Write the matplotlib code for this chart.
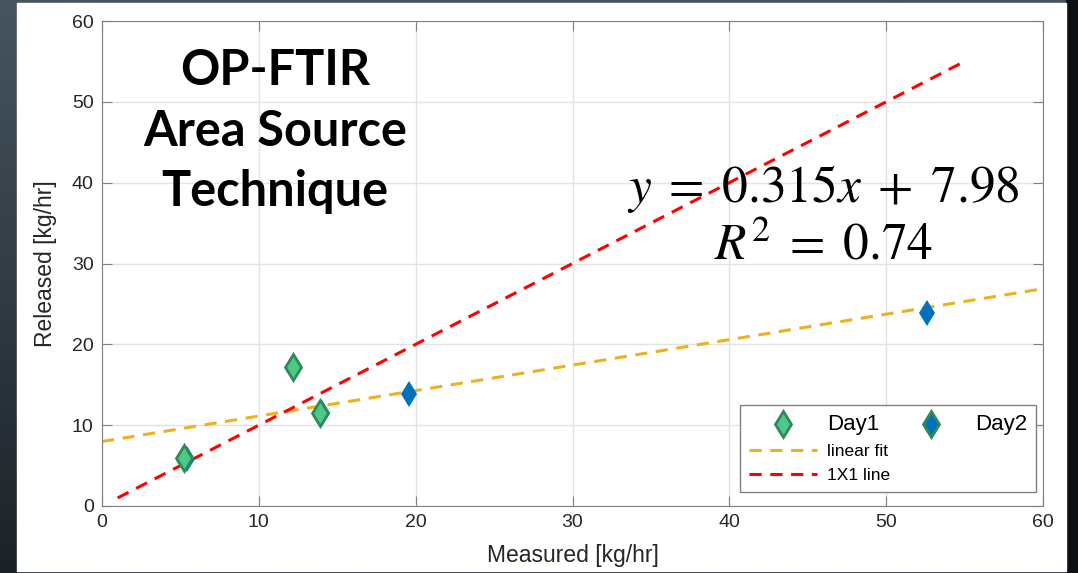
import numpy as np
import matplotlib
matplotlib.use("Agg")
import matplotlib.pyplot as plt
from matplotlib.lines import Line2D

# dados
day1_x = [5.2, 12.2, 13.9]
day1_y = [6.0, 17.2, 11.5]
day2_x = [5.4, 14.0, 19.6, 52.6]
day2_y = [5.8, 11.5, 13.9, 23.9]
slope, intercept = 0.315, 7.98
fit_x = [0, 60]
one_x = [1, 55]
ticks = [0, 10, 20, 30, 40, 50, 60]

plt.rcParams['mathtext.fontset'] = 'stix'
plt.rcParams['font.family'] = ['Liberation Sans', 'DejaVu Sans']

fig = plt.figure(figsize=(10.78, 5.73), dpi=100)

# fundo escuro do slide
bg = fig.add_axes([0, 0, 1, 1])
grad = np.linspace(0, 1, 256).reshape(-1, 1)
cmap = matplotlib.colors.LinearSegmentedColormap.from_list("bg", ["#47555f", "#1c2228"])
bg.imshow(grad, aspect="auto", cmap=cmap, extent=[0, 1, 0, 1])
bg.add_patch(plt.Rectangle((1066/1078, 0), 1, 1, color="#0e0f12"))
bg.add_patch(plt.Rectangle((17/1078, 2/573), 1049/1078, 568/573, color="white"))
bg.set_xlim(0, 1)
bg.set_ylim(0, 1)
bg.axis("off")

ax = fig.add_axes([102/1078, 1 - 506/573, 941/1078, 485/573])
ax.set_facecolor("white")

ax.plot(fit_x, [slope*v + intercept for v in fit_x], "--", color="#EDB120", lw=2.2, dashes=(4, 2.8))
ax.plot(one_x, one_x, "--", color="#ff0000", lw=2.2, dashes=(4, 2.8))
ax.plot(day2_x, day2_y, "d", color="#0072BD", ms=13, mec="#0072BD", mew=0, zorder=3)
ax.plot(day1_x, day1_y, "d", color="#4dc98a", ms=13, mec="#2e8b57", mew=2, zorder=4)

ax.set_xlim(0, 60)
ax.set_ylim(0, 60)
ax.set_xticks(ticks)
ax.set_yticks(ticks)
ax.grid(True, color="#e3e3e3", lw=1)
ax.set_axisbelow(True)
for s in ax.spines.values():
    s.set_color("#808080")
ax.tick_params(colors="#808080", labelcolor="#262626", labelsize=14, length=7,
               direction="in", top=True, right=True, pad=6)
ax.set_xlabel("Measured [kg/hr]", fontsize=16.5, color="#262626", labelpad=9)
ax.set_ylabel("Released [kg/hr]", fontsize=16.5, color="#262626", labelpad=11)

ax.text(0.184, 0.773, "OP-FTIR\nArea Source\nTechnique", transform=ax.transAxes,
        ha="center", va="center", fontsize=35, fontweight="bold", family="Lato",
        linespacing=1.42)
ax.text(46.0, 39.2, r"$y\;=\;0.315x\;+\;7.98$", ha="center", va="center", fontsize=37)
ax.text(46.0, 32.2, r"$R^2\;=\;0.74$", ha="center", va="center", fontsize=37)

h1 = Line2D([], [], ls="none", marker="d", color="#4dc98a", mec="#2e8b57", mew=2, ms=13)
h2 = Line2D([], [], ls="none", marker="d", color="#0072BD", mec="#2e8b57", mew=2, ms=13)
hf = Line2D([], [], ls="--", color="#EDB120", lw=2.2, dashes=(4, 2.8))
hr = Line2D([], [], ls="--", color="#ff0000", lw=2.2, dashes=(4, 2.8))
blank = Line2D([], [], ls="none")
leg = ax.legend([h1, hf, hr, h2, blank, blank], ["Day1", "linear fit", "1X1 line", "Day2", "", ""],
                ncol=2, loc="lower right", bbox_to_anchor=(0.9926, 0.0289), borderaxespad=0,
                fontsize=12.5, fancybox=False, framealpha=1,
                edgecolor="#808080", handlelength=3.9, columnspacing=0.4, handletextpad=0.6,
                labelspacing=0.52, borderpad=0.5)
for t in leg.get_texts():
    if t.get_text().startswith("Day"):
        t.set_fontsize(16)

fig.savefig("out.png", dpi=100)
